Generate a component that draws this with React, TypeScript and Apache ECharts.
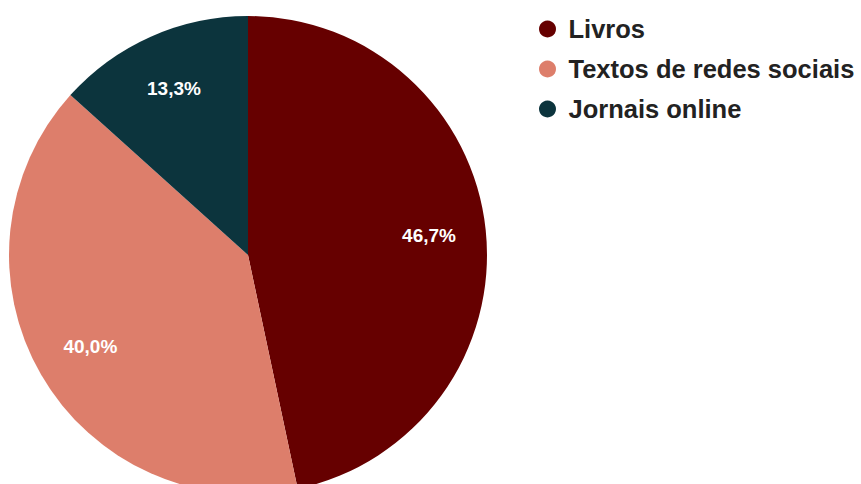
import React, { useEffect, useRef } from "react";
import * as echarts from "echarts";

const categories = ["Livros", "Textos de redes sociais", "Jornais online"];
const values = [7, 6, 2];
const colors = ["#660000", "#dd7e6b", "#0c343d"];

const FONT = "'Liberation Sans', Arial, sans-serif";

export default function App() {
  const ref = useRef<HTMLDivElement>(null);
  useEffect(() => {
    document.body.style.margin = "0";
    const chart = echarts.init(ref.current!, null, { renderer: "svg" });
    const data = categories.map((name, i) => ({
      name,
      value: values[i],
      itemStyle: { color: colors[i] },
    }));
    const total = values.reduce((a, b) => a + b, 0);
    chart.setOption({
      animation: false,
      backgroundColor: "#ffffff",
      legend: {
        orient: "vertical",
        left: 534,
        top: 10,
        icon: "circle",
        itemWidth: 32,
        itemHeight: 17,
        itemGap: 12,
        data: categories,
        textStyle: {
          fontFamily: FONT,
          fontSize: 25.5,
          fontWeight: "bold",
          color: "#222222",
          lineHeight: 28,
        },
      },
      series: [
        {
          type: "pie",
          center: [248, 255],
          radius: [0, 239],
          startAngle: 90,
          clockwise: true,
          silent: true,
          label: { show: false },
          labelLine: { show: false },
          data,
        },
        {
          type: "pie",
          center: [248, 255],
          radius: [163, 195],
          startAngle: 90,
          clockwise: true,
          silent: true,
          legendHoverLink: false,
          itemStyle: { color: "rgba(0,0,0,0)" },
          label: {
            show: true,
            position: "inside",
            fontFamily: FONT,
            fontSize: 19,
            fontWeight: "bold",
            color: "#ffffff",
            formatter: (p: any) =>
              ((p.value / total) * 100).toFixed(1).replace(".", ",") + "%",
          },
          labelLine: { show: false },
          data: categories.map((name, i) => ({ name: name + " ", value: values[i] })),
        },
      ],
    });
    return () => chart.dispose();
  }, []);
  return <div ref={ref} style={{ width: 861, height: 484 }} />;
}
